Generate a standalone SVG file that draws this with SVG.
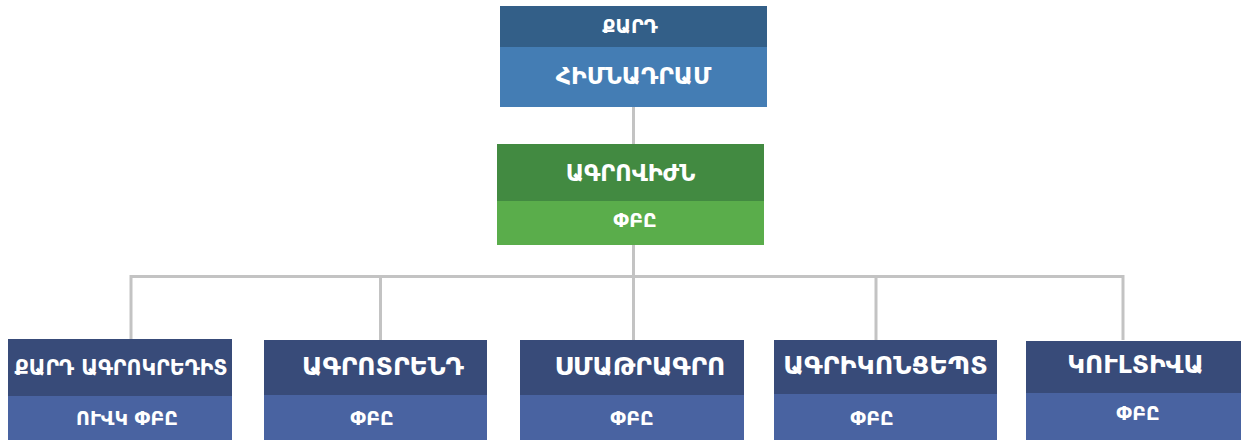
<svg xmlns="http://www.w3.org/2000/svg" width="1241" height="440" viewBox="0 0 1241 440">
<style>
text{font-family:"DejaVu Sans","Noto Sans",sans-serif;font-weight:bold;fill:#fff;text-anchor:middle}
.t1{font-size:19px}
.t2{font-size:23.5px}
.t3{font-size:22.5px}
.t5{font-size:25px}
.t4{font-size:19px}
.c{stroke:#c3c3c3;stroke-width:3;fill:none}
</style>
<rect width="1241" height="440" fill="#fff"/>
<g id="connectors">
<path class="c" d="M633.5 107V144M633.5 245V340M131 340V276.5H1123V340M380.5 276.5V340M876 276.5V340"/>
</g>
<g id="n-kard">
<rect x="500" y="6" width="267" height="41" fill="#335f88"/>
<rect x="500" y="47" width="267" height="60" fill="#447db4"/>
<text class="t1" x="630" y="33">ՔԱՐԴ</text>
<text class="t2" x="633.5" y="84">ՀԻՄՆԱԴՐԱՄ</text>
</g>
<g id="n-agrovizhn">
<rect x="497" y="144" width="267" height="57" fill="#428a41"/>
<rect x="497" y="201" width="267" height="44" fill="#5aad4b"/>
<text class="t3" x="630.5" y="181">ԱԳՐՈՎԻԺՆ</text>
<text class="t4" x="635" y="227">ՓԲԸ</text>
</g>
<g id="n-agrocredit">
<rect x="8" y="339" width="224" height="57" fill="#384b79"/>
<rect x="8" y="396" width="224" height="44" fill="#4963a1"/>
<text class="t3" x="121" y="375" style="font-size:20.5px">ՔԱՐԴ ԱԳՐՈԿՐԵԴԻՏ</text>
<text class="t4" x="127" y="425">ՈՒՎԿ ՓԲԸ</text>
</g>
<g id="n-agrotrend">
<rect x="264" y="340" width="223" height="55" fill="#384b79"/>
<rect x="264" y="395" width="223" height="45" fill="#4963a1"/>
<text class="t5" x="383" y="375">ԱԳՐՈՏՐԵՆԴ</text>
<text class="t4" x="372" y="425">ՓԲԸ</text>
</g>
<g id="n-smatragro">
<rect x="520" y="340" width="224" height="55" fill="#384b79"/>
<rect x="520" y="395" width="224" height="45" fill="#4963a1"/>
<text class="t5" x="640" y="375">ՍՄԱԹՐԱԳՐՈ</text>
<text class="t4" x="632" y="425">ՓԲԸ</text>
</g>
<g id="n-agriconcept">
<rect x="774" y="340" width="223" height="54" fill="#384b79"/>
<rect x="774" y="394" width="223" height="46" fill="#4963a1"/>
<text class="t5" x="885.5" y="374" style="font-size:25.5px">ԱԳՐԻԿՈՆՑԵՊՏ</text>
<text class="t4" x="872" y="425">ՓԲԸ</text>
</g>
<g id="n-kultiva">
<rect x="1026" y="341" width="215" height="52" fill="#384b79"/>
<rect x="1026" y="393" width="215" height="47" fill="#4963a1"/>
<text class="t5" x="1135.5" y="373">ԿՈՒԼՏԻՎԱ</text>
<text class="t4" x="1138" y="420">ՓԲԸ</text>
</g>
</svg>
